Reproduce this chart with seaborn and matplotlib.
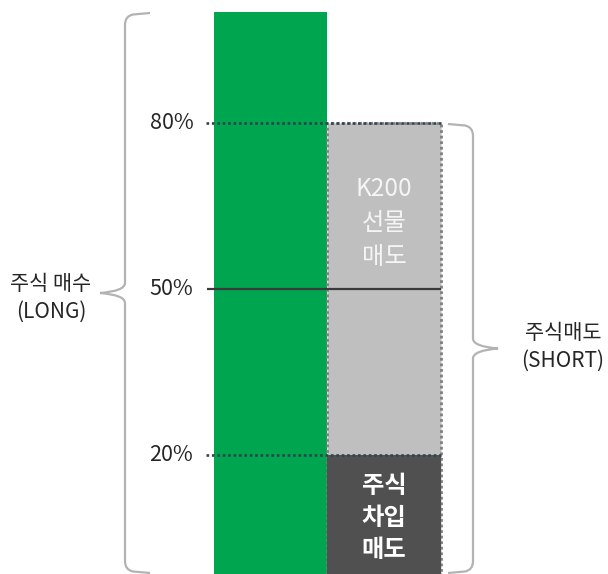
import matplotlib
matplotlib.use("Agg")
import matplotlib.pyplot as plt
import matplotlib.patches as mpatches
from matplotlib.path import Path
import numpy as np
import seaborn as sns

# data
categories = ["long", "short"]
long_total = [100, 0]
short_total = [0, 80]      # K200 선물 매도 + 주식 차입 매도
short_borrow = [0, 20]     # 주식 차입 매도
levels = [20, 50, 80]
level_labels = ["20%", "50%", "80%"]
level_styles = [":", "-", ":"]
long_label = "주식 매수\n(LONG)"
short_label = "주식매도\n(SHORT)"
futures_label = "K200\n선물\n매도"
borrow_label = "주식\n차입\n매도"

sns.set_theme(style="white")
plt.rcParams['font.family'] = ['Noto Sans CJK KR', 'DejaVu Sans']

GREEN = "#00a54f"
LIGHT = "#bfbfbf"
DARK = "#505050"
DOT = "#2f4450"
BRACE = "#b3b3b3"
TXT = "#262626"

fig = plt.figure(figsize=(6.08, 5.74), dpi=100)
ax = fig.add_axes([0, 0, 1, 1])
ax.set_xlim(-2.383, 2.974)
ax.set_ylim(-1.5, 102.2)
ax.axis("off")
y_floor = -1.5

x = np.arange(len(categories))
ax.bar(x[:1], np.array(long_total[:1]) - y_floor, bottom=y_floor, width=1.0,
       color=GREEN, linewidth=0, zorder=1)
ax.bar(x[1:], np.array(short_total[1:]) - y_floor, bottom=y_floor, width=1.0,
       color=LIGHT, edgecolor="#7f7f7f", linestyle=(0, (1, 1)), linewidth=2.0,
       zorder=1)
ax.bar(x[1:], np.array(short_borrow[1:]) - y_floor, bottom=y_floor, width=1.0,
       color=DARK, linewidth=0, zorder=2)

# reference lines
for lv, lab, ls in zip(levels, level_labels, level_styles):
    if ls == "-":
        ax.hlines(lv, -0.56, 1.50, color="#3a3a3a", linewidth=1.6, zorder=3)
    else:
        ax.hlines(lv, -0.568, 1.50, color=DOT, linewidth=1.9,
                  linestyles=(0, (1, 1.05)), zorder=3)
    ax.text(-0.68, lv, lab, ha="right", va="center", fontsize=15.5, color=TXT)

# labels inside the short bar
ax.text(1, 62.0, futures_label, ha="center", va="center", fontsize=17.5,
        color="#f5f5f5", linespacing=1.4, zorder=4)
ax.text(1, 8.6, borrow_label, ha="center", va="center", fontsize=17.5,
        color="white", fontweight="bold", linespacing=1.4, zorder=4)

# braces in pixel coordinates
ov = fig.add_axes([0, 0, 1, 1])
ov.set_xlim(0, 608)
ov.set_ylim(574, 0)
ov.axis("off")
ov.patch.set_alpha(0)


def brace(axis, x0, y_top, y_bot, side):
    # side=+1 -> opens right, tip left ; side=-1 -> opens left, tip right
    s = side
    xe = x0 + 25 * s
    tip = x0 - 25 * s
    ym = (y_top + y_bot) / 2
    verts = [
        (xe, y_top), (x0 + 8 * s, y_top + 1.5),
        (x0, y_top + 3), (x0, y_top + 12),
        (x0, ym - 10),
        (x0, ym - 2), (tip, ym),
        (x0, ym + 2), (x0, ym + 10),
        (x0, y_bot - 12),
        (x0, y_bot - 3), (x0 + 8 * s, y_bot - 1.5),
        (xe, y_bot),
    ]
    codes = [Path.MOVETO, Path.LINETO,
             Path.CURVE3, Path.CURVE3,
             Path.LINETO,
             Path.CURVE3, Path.CURVE3,
             Path.CURVE3, Path.CURVE3,
             Path.LINETO,
             Path.CURVE3, Path.CURVE3,
             Path.LINETO]
    axis.add_patch(mpatches.PathPatch(Path(verts, codes), facecolor="none",
                                      edgecolor=BRACE, linewidth=1.6))


brace(ov, 125, 13, 573, 1)
brace(ov, 473, 124, 573, -1)

ov.text(51, 298, long_label, ha="center", va="center", fontsize=15,
        color=TXT, linespacing=1.35)
ov.text(563, 347, short_label, ha="center", va="center", fontsize=15,
        color=TXT, linespacing=1.35)

fig.savefig("out.png", dpi=100)
